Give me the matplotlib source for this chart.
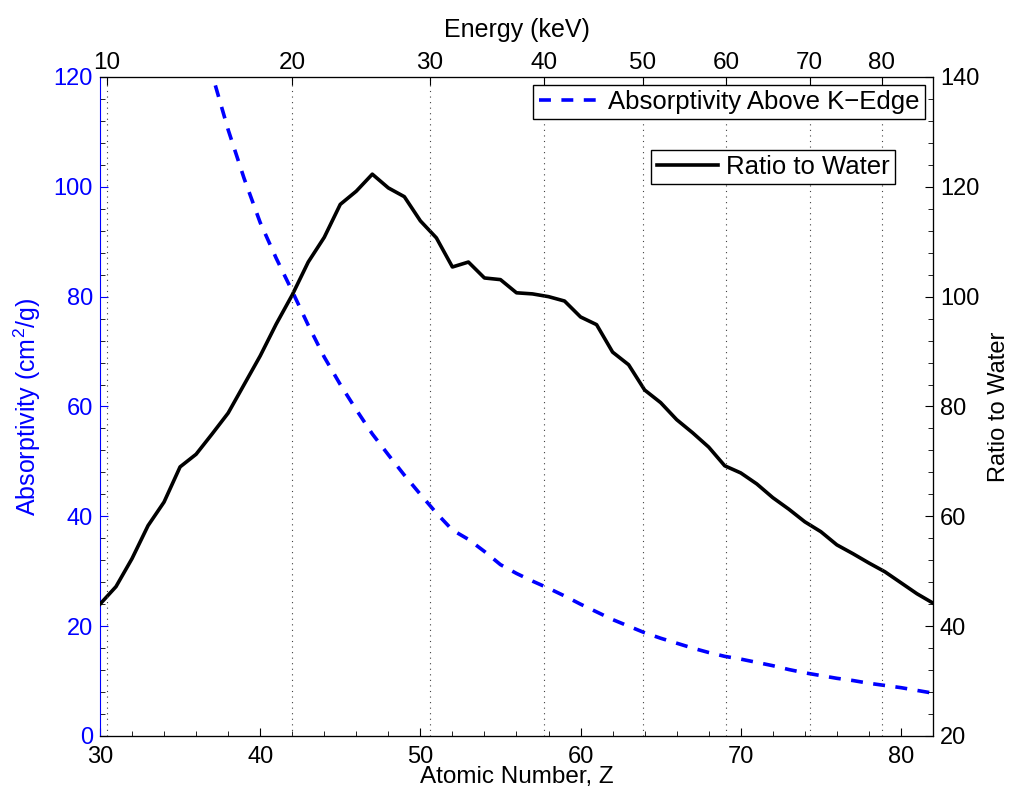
import matplotlib.pyplot as plt
from matplotlib.ticker import MultipleLocator

plt.rcParams['font.family'] = ['Liberation Sans', 'DejaVu Sans']
plt.rcParams['mathtext.fontset'] = 'custom'
plt.rcParams['mathtext.rm'] = 'Liberation Sans'
plt.rcParams['mathtext.it'] = 'Liberation Sans'

# atomic number Z
z_ratio = list(range(30, 83))
ratio = [44.0, 47.2, 52.3, 58.3, 62.6, 69.0, 71.3, 75.0, 78.8, 84.0,
         89.2, 95.0, 100.3, 106.3, 110.8, 116.8, 119.2, 122.3, 119.8, 118.2,
         113.8, 110.7, 105.4, 106.3, 103.4, 103.1, 100.7, 100.5, 100.0, 99.2,
         96.3, 94.9, 89.9, 87.6, 83.0, 80.7, 77.6, 75.2, 72.6, 69.2,
         67.9, 65.9, 63.4, 61.3, 59.0, 57.2, 54.8, 53.2, 51.5, 49.9,
         47.9, 45.9, 44.2]

z_abs = list(range(35, 83))
absorb = [143.0, 131.0, 120.5, 110.4, 101.5, 93.5, 87.0, 81.0, 74.8, 69.0,
          64.0, 59.4, 55.0, 51.2, 47.5, 44.0, 40.6, 37.5, 35.8, 33.6,
          31.2, 29.6, 28.2, 26.9, 25.5, 24.0, 22.6, 21.2, 20.0, 18.8,
          17.8, 16.9, 16.0, 15.2, 14.5, 14.0, 13.4, 12.8, 12.1, 11.5,
          11.0, 10.5, 10.1, 9.6, 9.2, 8.8, 8.3, 7.8]

# K-edge energy ticks, placed at the matching Z
energy_z = [30.44, 41.98, 50.6, 57.7, 63.9, 69.1, 74.3, 78.8]
energy_labels = ['10', '20', '30', '40', '50', '60', '70', '80']

blue = '#0000ff'

fig = plt.figure(figsize=(10.14, 7.96), dpi=100)
ax = fig.add_axes([0.0986, 0.0754, 0.8215, 0.8279])

l1, = ax.plot(z_abs, absorb, color=blue, lw=2.6, ls='--', dashes=(3.3, 2.9),
              label='Absorptivity Above K\u2212Edge')
ax.set_xlim(30, 82)
ax.set_ylim(0, 120)
ax.xaxis.set_major_locator(MultipleLocator(10))
ax.xaxis.set_minor_locator(MultipleLocator(2))
ax.yaxis.set_major_locator(MultipleLocator(20))
ax.yaxis.set_minor_locator(MultipleLocator(4))
ax.tick_params(which='both', direction='in', top=False, right=False)
ax.tick_params(which='major', length=6)
ax.tick_params(which='minor', length=3.5)
ax.tick_params(axis='x', labelsize=17, pad=7)
ax.tick_params(axis='y', labelsize=17, colors=blue, pad=5)
ax.spines['left'].set_color(blue)
ax.set_xlabel('Atomic Number, Z', fontsize=17.5, labelpad=-1)
ax.set_ylabel('Absorptivity (cm$^2$/g)', fontsize=18, color=blue, labelpad=8)

ax2 = ax.twinx()
l2, = ax2.plot(z_ratio, ratio, color='black', lw=2.6, label='Ratio to Water')
ax2.set_ylim(20, 140)
ax2.yaxis.set_major_locator(MultipleLocator(20))
ax2.yaxis.set_minor_locator(MultipleLocator(4))
ax2.tick_params(which='both', direction='in', labelsize=17, pad=5)
ax2.tick_params(which='major', length=6)
ax2.tick_params(which='minor', length=3.5)
ax2.spines['left'].set_visible(False)
ax2.set_ylabel('Ratio to Water', fontsize=17, labelpad=6)

ax3 = ax.twiny()
ax3.set_xlim(30, 82)
ax3.set_xticks(energy_z)
ax3.set_xticklabels(energy_labels)
ax3.tick_params(axis='x', direction='in', length=6, labelsize=17.5, pad=2)
ax3.grid(axis='x', ls=(0, (1, 4)), color='0.25', lw=0.8)
ax3.spines['left'].set_visible(False)
ax3.set_xlabel('Energy (keV)', fontsize=18, labelpad=11)

leg1 = ax3.legend(handles=[l1], loc='upper right', bbox_to_anchor=(0.99, 0.988),
                  fontsize=18.5, frameon=True, fancybox=False, edgecolor='black',
                  borderpad=0.2, handlelength=2.4, handletextpad=0.3,
                  borderaxespad=0, framealpha=1)
leg1.get_frame().set_linewidth(1.0)
ax3.add_artist(leg1)
leg2 = ax3.legend(handles=[l2], loc='upper right', bbox_to_anchor=(0.954, 0.889),
                  fontsize=18.5, frameon=True, fancybox=False, edgecolor='black',
                  borderpad=0.2, handlelength=2.4, handletextpad=0.3,
                  borderaxespad=0, framealpha=1)
leg2.get_frame().set_linewidth(1.0)

fig.savefig('out.png', dpi=100)
